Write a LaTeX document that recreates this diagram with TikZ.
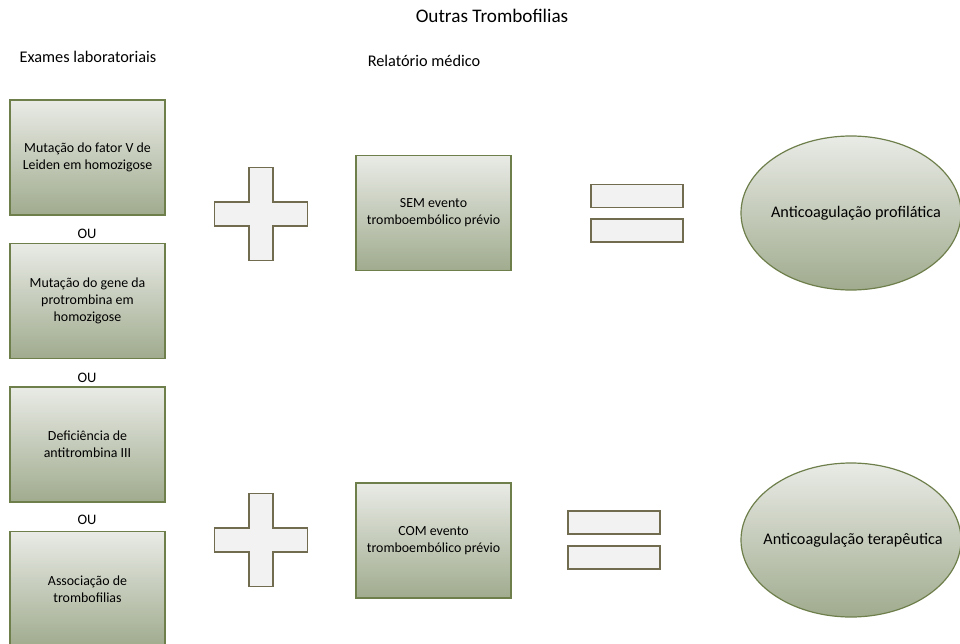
\documentclass[tikz,border=0pt]{standalone}
\usepackage{fontspec}
\setmainfont{Carlito}
\usetikzlibrary{positioning}
\usetikzlibrary{shapes.geometric}

\definecolor{boxtop}{HTML}{E9EBE6}
\definecolor{boxbot}{HTML}{A0AB8E}
\definecolor{boxline}{HTML}{6E7F4C}
\definecolor{signfill}{HTML}{F2F2F2}
\definecolor{signline}{HTML}{716B50}

\tikzset{
  exambox/.style={rectangle, draw=boxline, line width=1.5pt, top color=boxtop, bottom color=boxbot, minimum width=155pt, minimum height=115pt, align=center, inner sep=0pt, font=\fontsize{13.9}{17}\selectfont},
  resultoval/.style={ellipse, draw=boxline, line width=1.2pt, top color=boxtop, bottom color=boxbot, minimum width=220pt, minimum height=154pt, inner sep=0pt, font=\fontsize{16.2}{19}\selectfont},
  eqbar/.style={rectangle, draw=signline, line width=1.5pt, fill=signfill, minimum width=92pt, minimum height=23pt, inner sep=0pt},
  plussign/.style={draw=signline, line width=1.5pt, fill=signfill},
  heading/.style={font=\fontsize{16.3}{19}\selectfont},
  orword/.style={font=\fontsize{14.5}{17}\selectfont},
}

\newcommand{\plusmark}[1]{%
  \draw[plussign] (#1) ++(-12,-46.5) -- ++(24,0) -- ++(0,34.5) -- ++(34.5,0) -- ++(0,24) -- ++(-34.5,0) -- ++(0,34.5) -- ++(-24,0) -- ++(0,-34.5) -- ++(-34.5,0) -- ++(0,-24) -- ++(34.5,0) -- cycle;}

\begin{document}
\begin{tikzpicture}[x=1pt, y=-1pt]
            \useasboundingbox (0,0) rectangle (960,644);
            \clip (0,0) rectangle (960,644);

            % headings
            \node (title) at (492,16) [font=\fontsize{19.2}{22}\selectfont]{Outras Trombofilias};
            \node (labhead) at (88,57) [heading]{Exames laboratoriais};
            \node (rephead) at (424,61) [heading]{Relatório médico};

            % laboratory tests
            \node (lab1) at (87.5,157.5) [exambox]{Mutação do fator V de\\Leiden em homozigose};
            \node (or1) at (87,234) [orword]{OU};
            \node (lab2) at (87.5,301) [exambox]{Mutação do gene da\\protrombina em\\homozigose};
            \node (or2) at (87,378) [orword]{OU};
            \node (lab3) at (87.5,444.5) [exambox]{Deficiência de\\antitrombina III};
            \node (or3) at (87,520) [orword]{OU};
            \node (lab4) at (87.5,589) [exambox]{Associação de\\trombofilias};

            % plus signs
            \coordinate (plus1) at (261,214);
            \coordinate (plus2) at (261,540);
            \plusmark{plus1}
            \plusmark{plus2}

            % medical report
            \node (sem) at (433.5,213) [exambox]{SEM evento\\tromboembólico prévio};
            \node (com) at (433.5,540.5) [exambox]{COM evento\\tromboembólico prévio};

            % equals signs
            \node (eq1a) at (637,196) [eqbar]{};
            \node (eq1b) at (637,230.5) [eqbar]{};
            \node (eq2a) at (614,522.5) [eqbar]{};
            \node (eq2b) at (614,557.5) [eqbar]{};

            % results
            \node (prof) at (851,213) [resultoval]{\makebox[0pt]{\hspace{10pt}Anticoagulação profilática}};
            \node (ther) at (851,540) [resultoval]{\makebox[0pt]{\hspace{4pt}Anticoagulação terapêutica}};

        \end{tikzpicture}
\end{document}
